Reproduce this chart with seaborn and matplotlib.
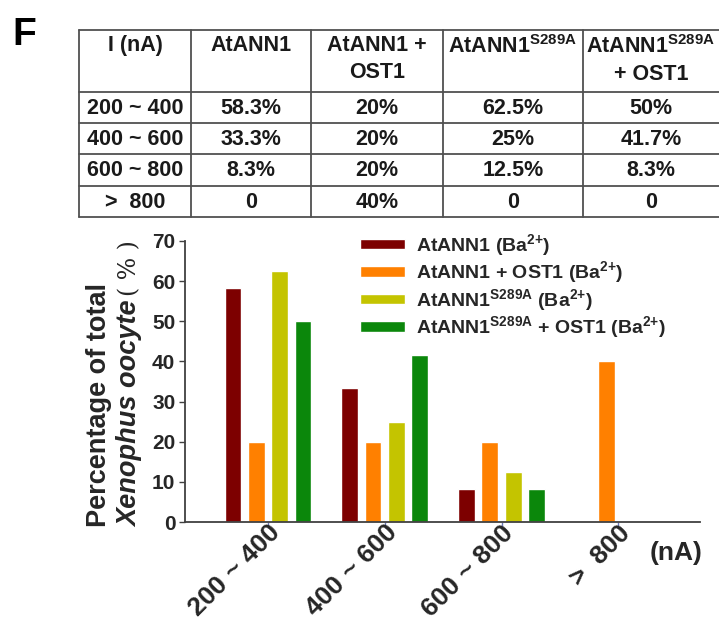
import matplotlib
matplotlib.use("Agg")
import matplotlib.pyplot as plt
import seaborn as sns
import pandas as pd

# Current ranges (nA) and share of oocytes (%) per construct
ranges = ["200 ~ 400", "400 ~ 600", "600 ~ 800", ">  800"]
atann1 = [58.3, 33.3, 8.3, 0]
atann1_ost1 = [20, 20, 20, 40]
s289a = [62.5, 25, 12.5, 0]
s289a_ost1 = [50, 41.7, 8.3, 0]

series_labels = [
    "AtANN1 (Ba$^{2{+}}$)",
    "AtANN1 + OST1 (Ba$^{2{+}}$)",
    "AtANN1$^{S289A}$ (Ba$^{2{+}}$)",
    "AtANN1$^{S289A}$ + OST1 (Ba$^{2{+}}$)",
]
table_headers = ["I (nA)", "AtANN1", "AtANN1 +\nOST1",
                 "AtANN1$^{S289A}$", "AtANN1$^{S289A}$\n+ OST1"]
colors = ["#7d0000", "#ff8000", "#c4c400", "#0b870b"]

sns.set_theme(style="white")
plt.rcParams["font.family"] = ["Liberation Sans", "DejaVu Sans"]
plt.rcParams.update({
    "mathtext.fontset": "custom",
    "mathtext.rm": "Liberation Sans:bold",
    "mathtext.bf": "Liberation Sans:bold",
    "mathtext.it": "Liberation Sans:italic:bold",
    "mathtext.default": "bf",
})

series_values = [atann1, atann1_ost1, s289a, s289a_ost1]
df = pd.DataFrame({
    "range": [r for _ in series_labels for r in ranges],
    "construct": [lab for lab in series_labels for _ in ranges],
    "pct": [v for vals in series_values for v in vals],
})

W, H = 719, 631
fig = plt.figure(figsize=(W / 100, H / 100), dpi=100)

# ---- summary table (drawn in pixel coordinates on an overlay axes) ----
tab = fig.add_axes([0, 0, 1, 1], zorder=0)
tab.set_xlim(0, W)
tab.set_ylim(H, 0)
tab.axis("off")

col_edges = [79, 191, 311, 443, 583, 719]
row_edges = [30, 92, 123, 154, 186, 217]
line_kw = dict(color="#505050", lw=1.3)
for y in row_edges:
    tab.plot([col_edges[0], col_edges[-1]], [y, y], **line_kw)
for x in col_edges[:-1]:
    tab.plot([x, x], [row_edges[0], row_edges[-1]], **line_kw)

cx = [(a + b) / 2 for a, b in zip(col_edges[:-1], col_edges[1:])]
for j, head in enumerate(table_headers):
    tab.text(cx[j], 35, head, ha="center", va="top", fontsize=15.5,
             fontweight="bold", color="#1a1a1a", linespacing=1.35)

def cell(v):
    return f"{v:g}%" if v else "0"

for i, r in enumerate(ranges):
    cy = (row_edges[i + 1] + row_edges[i + 2]) / 2
    row = [r] + [cell(vals[i]) for vals in series_values]
    for j, txt in enumerate(row):
        tab.text(cx[j], cy + 1, txt, ha="center", va="center", fontsize=15.5,
                 fontweight="bold", color="#1a1a1a")

fig.text(12 / W, 1 - 17 / H, "F", ha="left", va="top", fontsize=28,
         fontweight="bold", color="black")

# ---- grouped bar chart ----
ax = fig.add_axes([185 / W, 1 - 522 / H, (700 - 185) / W, (522 - 241) / H],
                  zorder=2)
ax.patch.set_alpha(0)
sns.barplot(data=df, x="range", y="pct", hue="construct", order=ranges,
            hue_order=series_labels, palette=colors, width=0.8, gap=0.28,
            saturation=1, ax=ax, legend=True)

ax.set_xlim(-0.711, 3.70)
ax.set_ylim(0, 70)
ax.set_yticks(range(0, 71, 10))
ax.set_xlabel("")
ax.set_ylabel("")
for side in ("top", "right"):
    ax.spines[side].set_visible(False)
for side in ("left", "bottom"):
    ax.spines[side].set_color("#404040")
    ax.spines[side].set_linewidth(1.3)

ax.tick_params(axis="y", left=True, direction="out", length=4, width=1,
               color="#404040", pad=3, labelsize=15)
ax.tick_params(axis="x", bottom=True, direction="out", length=4, width=1,
               color="#6a78b8", pad=-5)
for t in ax.get_yticklabels():
    t.set_fontweight("bold")
ax.set_xticks(range(len(ranges)))
ax.set_xticklabels(ranges, rotation=45, ha="right", va="top",
                   rotation_mode="anchor", fontsize=19, fontweight="bold")

ax.text(650 / W, 1 - 553 / H, "(nA)", transform=fig.transFigure,
        ha="left", va="center", fontsize=19, fontweight="bold")

# y-axis title in two lines
fig.text(99 / W, 1 - 527 / H, "Percentage of total", rotation=90,
         ha="center", va="bottom", fontsize=19.5, fontweight="bold")
fig.text(130 / W, 1 - 527 / H, "Xenophus oocyte", rotation=90,
         ha="center", va="bottom", fontsize=19.5, fontweight="bold",
         fontstyle="italic")
fig.text(130 / W, 1 - 240 / H, "( % )", rotation=90,
         ha="center", va="top", fontsize=17,
         family=["DejaVu Serif"], fontweight="light")

handles, labels = ax.get_legend_handles_labels()
ax.legend(handles, labels, loc="upper left",
          bbox_to_anchor=(360 / W, 1 - 232 / H), bbox_transform=fig.transFigure,
          frameon=False, prop={"weight": "bold", "size": 14},
          handlelength=2.3, handleheight=0.45, handletextpad=0.6,
          labelspacing=0.08, borderpad=0, borderaxespad=0)

fig.savefig("out.png", dpi=100)
